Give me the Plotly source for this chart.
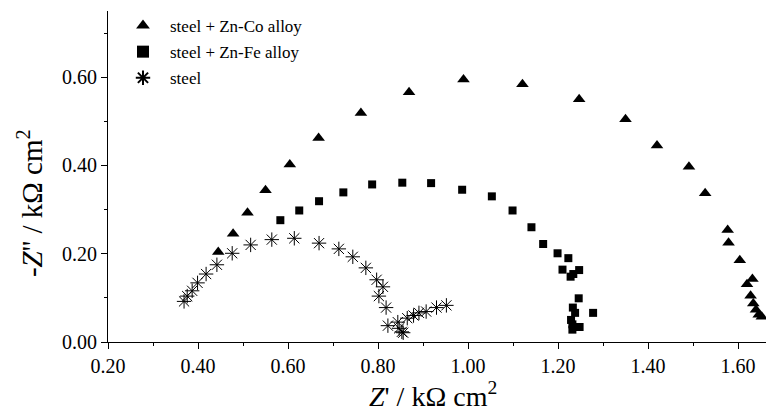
import plotly.graph_objects as go

# Zn-Co alloy (triangles)
zn_co_x = [0.445, 0.478, 0.510, 0.550, 0.604, 0.668, 0.762, 0.869, 0.990, 1.121,
           1.247, 1.350, 1.420, 1.491, 1.527, 1.577, 1.579, 1.604, 1.632, 1.620,
           1.628, 1.634, 1.640, 1.646, 1.653]
zn_co_y = [0.204, 0.245, 0.293, 0.344, 0.402, 0.462, 0.519, 0.566, 0.595, 0.584,
           0.550, 0.505, 0.445, 0.397, 0.337, 0.254, 0.225, 0.185, 0.143, 0.131,
           0.105, 0.087, 0.073, 0.062, 0.057]

# Zn-Fe alloy (squares)
zn_fe_x = [0.583, 0.625, 0.669, 0.723, 0.787, 0.854, 0.918, 0.987, 1.053, 1.099,
           1.141, 1.167, 1.199, 1.223, 1.210, 1.247, 1.234, 1.228, 1.246, 1.278,
           1.233, 1.238, 1.229, 1.232, 1.237, 1.248, 1.232]
zn_fe_y = [0.276, 0.298, 0.319, 0.339, 0.357, 0.361, 0.360, 0.345, 0.330, 0.298,
           0.260, 0.222, 0.201, 0.190, 0.164, 0.163, 0.154, 0.148, 0.099, 0.066,
           0.078, 0.066, 0.050, 0.040, 0.034, 0.034, 0.028]

# steel (asterisks)
steel_x = [0.369, 0.376, 0.387, 0.399, 0.418, 0.442, 0.476, 0.517, 0.564, 0.614,
           0.669, 0.713, 0.744, 0.773, 0.797, 0.811, 0.802, 0.818, 0.822, 0.844,
           0.847, 0.853, 0.856, 0.865, 0.879, 0.891, 0.907, 0.930, 0.952]
steel_y = [0.092, 0.104, 0.116, 0.134, 0.154, 0.175, 0.201, 0.220, 0.232, 0.235,
           0.224, 0.211, 0.193, 0.168, 0.141, 0.125, 0.104, 0.078, 0.037, 0.045,
           0.031, 0.023, 0.021, 0.054, 0.060, 0.066, 0.069, 0.078, 0.083]

x_ticks = [0.2, 0.4, 0.6, 0.8, 1.0, 1.2, 1.4, 1.6]
y_ticks = [0.0, 0.2, 0.4, 0.6]

x_title = "<i>Z</i>' / kΩ cm<sup>2</sup>"
y_title = "-<i>Z</i>'' / kΩ cm<sup>2</sup>"

FONT = "Liberation Serif"

fig = go.Figure()
fig.add_trace(go.Scatter(x=zn_co_x, y=zn_co_y, mode="markers", name="steel + Zn-Co alloy",
                         cliponaxis=False, legendgroup="a",
                         marker=dict(symbol="triangle-up", size=11, color="black")))
fig.add_trace(go.Scatter(x=zn_fe_x, y=zn_fe_y, mode="markers", name="steel + Zn-Fe alloy",
                         cliponaxis=False, legendgroup="b",
                         marker=dict(symbol="square", size=8, color="black")))
fig.add_trace(go.Scatter(x=steel_x, y=steel_y, mode="markers", name="steel",
                         cliponaxis=False, legendgroup="c",
                         marker=dict(symbol="asterisk-open", size=12, color="black",
                                     line=dict(color="black", width=1))))

axis_common = dict(showline=True, linecolor="black", linewidth=1, showgrid=False,
                   zeroline=False, ticks="outside", ticklen=6, tickwidth=1, tickcolor="black",
                   automargin=False,
                   tickfont=dict(family=FONT, size=20, color="black"),
                   minor=dict(ticks="outside", ticklen=3, tickwidth=1, tickcolor="black", dtick=0.1))

fig.update_xaxes(range=[0.2, 1.68], tickvals=x_ticks, ticktext=[f"{v:.2f}" for v in x_ticks],
                 **axis_common)
fig.update_yaxes(range=[0, 0.75], tickvals=y_ticks, ticktext=[f"{v:.2f}" for v in y_ticks],
                 **axis_common)

fig.add_annotation(text=x_title, xref="paper", yref="paper", x=0.488, y=-0.16,
                   xanchor="center", yanchor="middle", showarrow=False,
                   font=dict(family=FONT, size=28, color="black"))
fig.add_annotation(text=y_title, xref="paper", yref="paper", x=-0.117, y=0.42,
                   xanchor="center", yanchor="middle", showarrow=False, textangle=-90,
                   font=dict(family=FONT, size=29, color="black"))

# page body has an 8px default margin, so the figure is sized to fit the 774x412 window
fig.update_layout(width=766, height=404, margin=dict(l=100, r=0, t=0, b=70),
                  plot_bgcolor="white", paper_bgcolor="white",
                  font=dict(family=FONT, color="black"),
                  legend=dict(x=0.012, y=1.01, xanchor="left", yanchor="top", bgcolor="rgba(0,0,0,0)",
                              font=dict(family=FONT, size=17, color="black"), tracegroupgap=1,
                              itemwidth=44, itemsizing="constant"),
                  showlegend=True)

fig.write_html("out.html")
